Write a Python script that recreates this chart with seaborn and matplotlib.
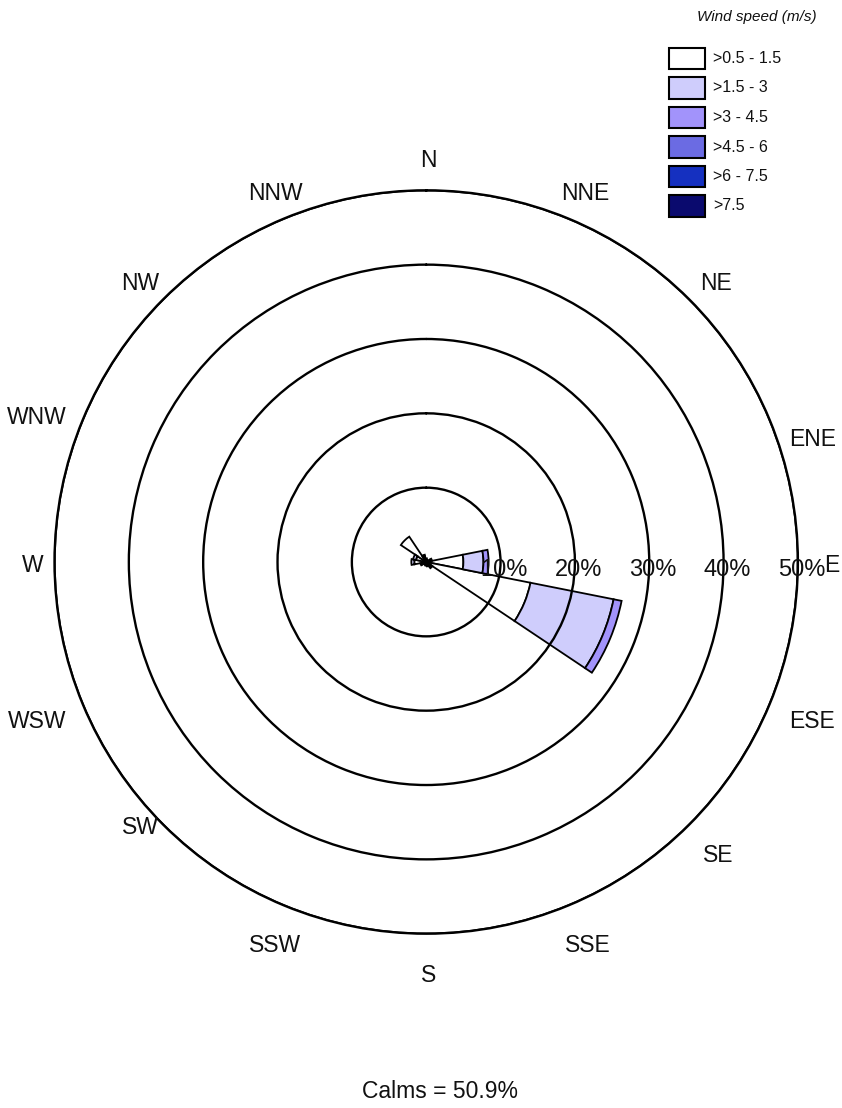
import numpy as np
import matplotlib
matplotlib.use("Agg")
import matplotlib.pyplot as plt
from matplotlib.patches import Rectangle
import matplotlib.transforms as mtransforms
import seaborn as sns

# Direction sectors (clockwise from north)
directions = ["N", "NNE", "NE", "ENE", "E", "ESE", "SE", "SSE",
              "S", "SSW", "SW", "WSW", "W", "WNW", "NW", "NNW"]

# Frequency (%) per speed class for each direction
spd_05_15 = [0.5, 0.3, 0.3, 0.6, 5.0, 14.3, 0.8, 0.5, 0.4, 0.3, 0.3, 0.6, 1.6, 1.4, 4.1, 0.8]
spd_15_3 = [0.0, 0.0, 0.0, 0.2, 2.7, 11.4, 0.2, 0.1, 0.1, 0.1, 0.1, 0.2, 0.4, 0.4, 0.0, 0.2]
spd_3_45 = [0.0, 0.0, 0.0, 0.0, 0.7, 1.1, 0.0, 0.0, 0.0, 0.0, 0.0, 0.0, 0.0, 0.0, 0.0, 0.0]
spd_45_6 = [0.0] * 16
spd_6_75 = [0.0] * 16
spd_75 = [0.0] * 16

speed_classes = [">0.5 - 1.5", ">1.5 - 3", ">3 - 4.5", ">4.5 - 6", ">6 - 7.5", ">7.5"]
class_colors = ["#ffffff", "#cfcdfc", "#a293fb", "#6b6be3", "#1530c0", "#0a0a6e"]

ring_values = [10, 20, 30, 40, 50]
calms = 50.9

# compass label placement: pixel offsets (right, down) from the rose centre
label_offsets = {
    "N": (2, -402), "NNE": (159, -369), "NE": (290, -279), "ENE": (386, -122),
    "E": (406, 3), "ESE": (386, 160), "SE": (292, 293), "SSE": (162, 383),
    "S": (2, 414), "SSW": (-151, 383), "SW": (-286, 266), "WSW": (-389, 160),
    "W": (-393, 3), "WNW": (-389, -144), "NW": (-286, -279), "NNW": (-151, -369),
}

sns.set_theme(style="white")
plt.rcParams["font.family"] = ["Liberation Sans", "DejaVu Sans"]
palette = sns.color_palette(class_colors)

W_PX, H_PX = 842, 1108
fig = plt.figure(figsize=(W_PX / 100, H_PX / 100), dpi=100)
fig.patch.set_facecolor("white")

# polar axes: centre (426, 562) px, outer ring radius 371.7 px
cx, cy, R = 426.2, 562.0, 371.7
ax = fig.add_axes([(cx - R) / W_PX, (H_PX - cy - R) / H_PX, 2 * R / W_PX, 2 * R / H_PX],
                  projection="polar")
ax.set_theta_zero_location("N")
ax.set_theta_direction(-1)
ax.set_ylim(0, 50)
ax.set_facecolor("white")

theta = np.deg2rad(np.arange(16) * 22.5)
width = np.deg2rad(22.5)
layers = [spd_05_15, spd_15_3, spd_3_45, spd_45_6, spd_6_75, spd_75]
bottom = np.zeros(16)
for vals, col in zip(layers, palette):
    vals = np.asarray(vals, dtype=float)
    mask = vals > 0
    ax.bar(theta[mask], vals[mask], width=width, bottom=bottom[mask],
           color=col, edgecolor="black", linewidth=1.3, align="center", zorder=1)
    bottom += vals

# rings
ax.set_yticks(ring_values)
ax.set_yticklabels([])
ax.set_xticks([])
ax.set_axisbelow(False)
ax.yaxis.grid(True, color="black", linewidth=1.7)
ax.xaxis.grid(False)
ax.spines["polar"].set_color("black")
ax.spines["polar"].set_linewidth(1.7)

# ring labels along the east axis
lab_tr = mtransforms.offset_copy(ax.transData, fig=fig, x=0, y=-7.5, units="dots")
for v in ring_values:
    ax.text(np.pi / 2, v - 2.7, f"{v}%", transform=lab_tr, ha="left", va="center",
            fontsize=17, color="#111111", zorder=5)

# compass labels
for d in directions:
    dx, dy = label_offsets[d]
    fig.text((cx + dx) / W_PX, 1 - (cy + dy) / H_PX, d, ha="center", va="center",
             fontsize=16.5, color="#111111")

# legend
fig.text(757 / W_PX, 1 - 17 / H_PX, "Wind speed (m/s)", ha="center", va="center",
         fontsize=11, style="italic", color="#111111")
for i, (lab, col) in enumerate(zip(speed_classes, palette)):
    top = 48 + 29.5 * i
    fig.add_artist(Rectangle((669 / W_PX, 1 - (top + 21) / H_PX), 36 / W_PX, 21 / H_PX,
                             transform=fig.transFigure, facecolor=col,
                             edgecolor="black", linewidth=1.5))
    fig.text(713 / W_PX, 1 - (top + 10.5) / H_PX, lab, ha="left", va="center",
             fontsize=11.5, color="#111111")

fig.text(440 / W_PX, 1 - 1091 / H_PX, f"Calms = {calms}%", ha="center", va="center",
         fontsize=16.5, color="#111111")

fig.savefig("out.png", dpi=100, facecolor="white")
